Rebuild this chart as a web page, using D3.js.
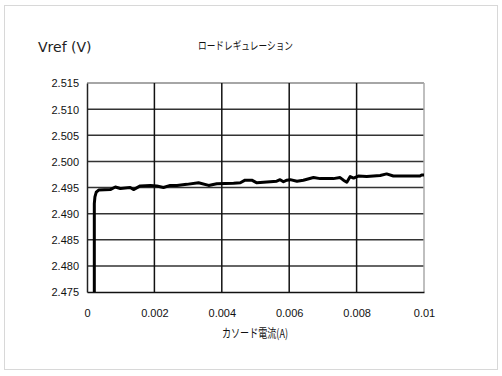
<!DOCTYPE html>
<html>
<head>
<meta charset="utf-8">
<script src="https://cdn.jsdelivr.net/npm/d3@7"></script>
<style>
  body { margin: 0; background: #fff; }
  svg { display: block; }
  .tick text { font-family: "Liberation Sans Narrow", "Arial Narrow", "Liberation Sans", sans-serif; font-size: 11px; fill: #111; }
</style>
</head>
<body>
<svg width="502" height="376"></svg>
<script>
(function(d3) {
    "use strict";

    // cathode current (A) and Vref (V)
    var current = [0.000217, 0.000217, 0.000235, 0.000275, 0.000346, 0.00069, 0.00084, 0.00099, 0.00128, 0.00138,
            0.00158, 0.00188, 0.00207, 0.00227, 0.00247, 0.00267, 0.00296, 0.00331, 0.00361, 0.00385,
            0.00435, 0.00455, 0.00469, 0.00489, 0.00504, 0.00524, 0.00563, 0.00573, 0.00583, 0.00593,
            0.00603, 0.00623, 0.00642, 0.00672, 0.00692, 0.00731, 0.00751, 0.00761, 0.00771, 0.00781,
            0.00791, 0.00805, 0.0083, 0.0087, 0.00889, 0.00909, 0.00988, 0.00993, 0.01],
        vref = [2.475, 2.4919, 2.4932, 2.4941, 2.4945, 2.4946, 2.4951, 2.4948, 2.4950, 2.4946,
            2.4953, 2.4954, 2.4953, 2.4950, 2.4954, 2.4954, 2.4956, 2.4959, 2.4954, 2.4957,
            2.4958, 2.4959, 2.4964, 2.4964, 2.4959, 2.4960, 2.4962, 2.4965, 2.4961, 2.4964,
            2.4965, 2.4962, 2.4964, 2.4969, 2.4967, 2.4967, 2.4969, 2.4964, 2.4960, 2.4971,
            2.4968, 2.4972, 2.4971, 2.4973, 2.4976, 2.4972, 2.4972, 2.4974, 2.4974],
        xTicks = [0, 0.002, 0.004, 0.006, 0.008, 0.01],
        yTicks = [2.475, 2.48, 2.485, 2.49, 2.495, 2.5, 2.505, 2.51, 2.515];

    var svg = d3.select("svg"),
        left = 87, right = 424, top = 83, bottom = 292,
        x = d3.scaleLinear().domain([0, 0.01]).range([left, right]),
        y = d3.scaleLinear().domain([2.475, 2.515]).range([bottom, top]),
        points = current.map(function(c, i) { return [c, vref[i]]; });

    // outer frame
    svg.append("rect").attr("x", 4.5).attr("y", 5.5).attr("width", 493).attr("height", 364)
        .attr("fill", "none").attr("stroke", "#d8d8d8");

    // horizontal grid
    svg.append("g").selectAll("line").data(yTicks.slice(1)).enter().append("line")
        .attr("x1", left).attr("x2", right)
        .attr("y1", function(d) { return y(d); }).attr("y2", function(d) { return y(d); })
        .attr("stroke", function(d, i) { return i === yTicks.length - 2 ? "#888" : "#333"; })
        .attr("stroke-width", 1.5);

    // vertical grid
    svg.append("g").selectAll("line").data(xTicks.slice(1)).enter().append("line")
        .attr("y1", top).attr("y2", bottom)
        .attr("x1", function(d) { return x(d); }).attr("x2", function(d) { return x(d); })
        .attr("stroke", function(d, i) { return i === xTicks.length - 2 ? "#aaa" : "#111"; })
        .attr("stroke-width", 1.5);

    // axes
    var yAxis = svg.append("g").attr("transform", "translate(" + left + ",0)")
        .call(d3.axisLeft(y).tickValues(yTicks).tickFormat(d3.format(".3f")).tickSize(0).tickPadding(8));
    yAxis.select(".domain").attr("stroke", "#222").attr("stroke-width", 1.5);
    yAxis.selectAll(".tick text").attr("dy", "0.36em");

    var xAxis = svg.append("g").attr("transform", "translate(0," + bottom + ")")
        .call(d3.axisBottom(x).tickValues(xTicks).tickFormat(function(d) { return d === 0 ? "0" : String(+d.toFixed(3)); })
            .tickSize(0).tickPadding(17));
    xAxis.select(".domain").attr("stroke", "#111").attr("stroke-width", 1.5);

    // data line
    svg.append("path").datum(points)
        .attr("fill", "none").attr("stroke", "#000").attr("stroke-width", 3)
        .attr("stroke-linejoin", "round")
        .attr("d", d3.line().x(function(d) { return x(d[0]); }).y(function(d) { return y(d[1]); }));

    // texts
    svg.append("text").attr("x", 38).attr("y", 52)
        .attr("font-family", "DejaVu Sans, Verdana, sans-serif").attr("font-size", 14).attr("fill", "#222")
        .text("Vref (V)");

    svg.append("text").attr("x", 198).attr("y", 50)
        .attr("font-family", "Noto Sans CJK JP, sans-serif").attr("font-size", 11).attr("fill", "#111")
        .attr("textLength", 95).attr("lengthAdjust", "spacingAndGlyphs")
        .text("ロードレギュレーション");

    svg.append("text").attr("x", 222).attr("y", 338)
        .attr("font-family", "Noto Sans CJK JP, sans-serif").attr("font-size", 12).attr("fill", "#111")
        .attr("textLength", 66).attr("lengthAdjust", "spacingAndGlyphs")
        .text("カソード電流(A)");

}(d3));
</script>
</body>
</html>
